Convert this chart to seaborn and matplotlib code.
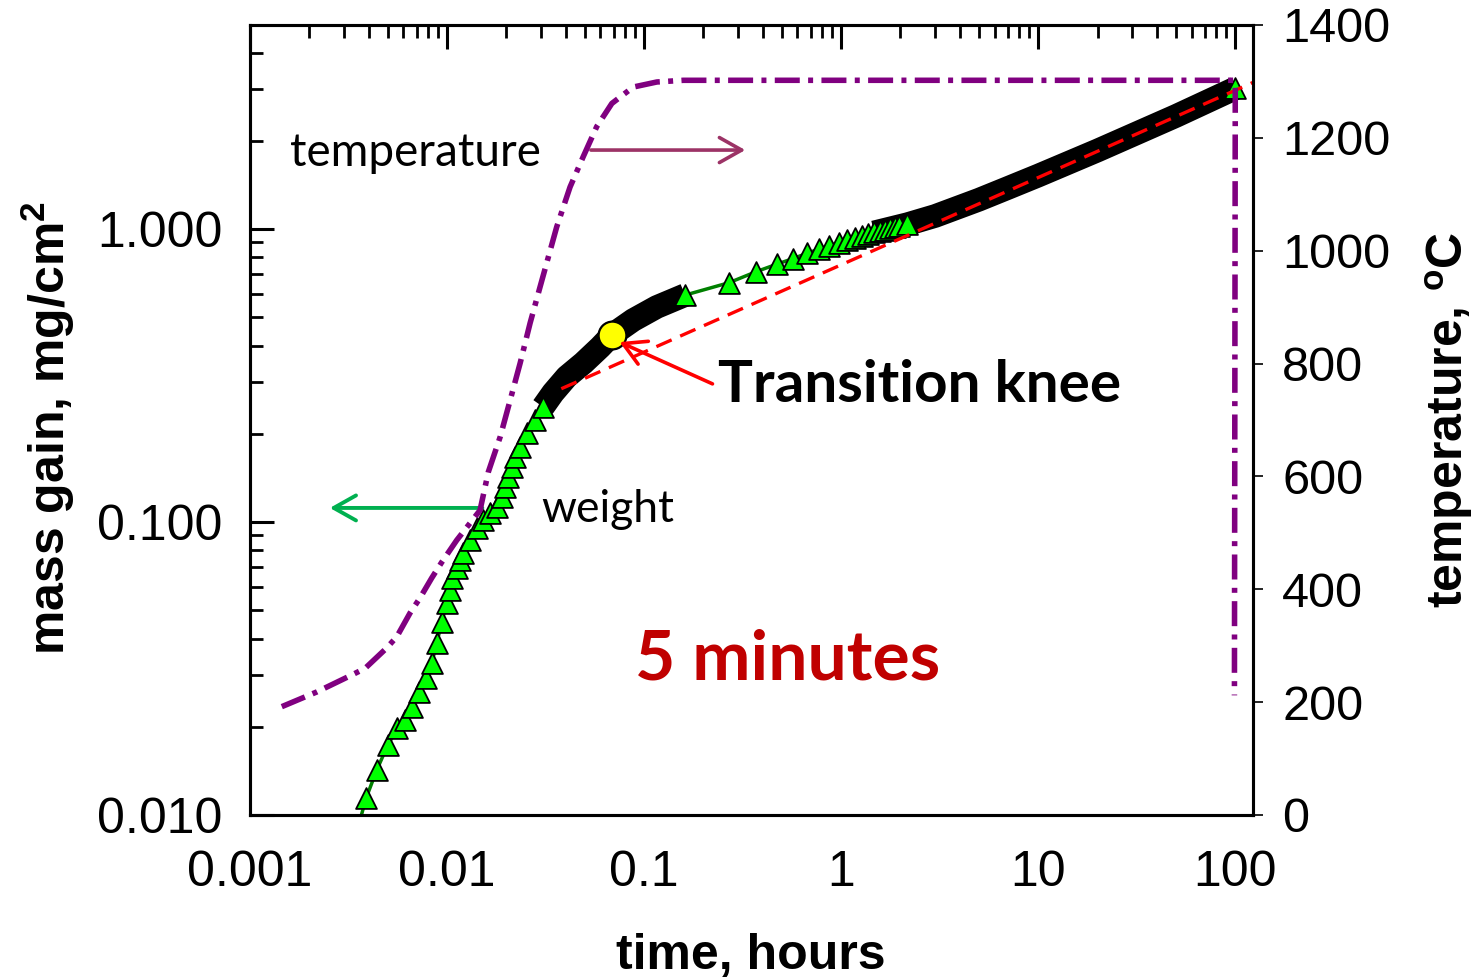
import matplotlib
matplotlib.use("Agg")
import matplotlib.pyplot as plt
import seaborn as sns

# weight gain data (hours, mg/cm2)
early_t = [0.0036, 0.00388, 0.0044, 0.0050, 0.0056, 0.00612, 0.00664, 0.0072, 0.0078,
           0.00836, 0.00887, 0.0094, 0.00996, 0.01035, 0.0106, 0.0112, 0.0117, 0.0121,
           0.0131, 0.01415, 0.0153, 0.01655, 0.0179, 0.0189, 0.0197, 0.0205, 0.0213,
           0.0221, 0.0235, 0.0254, 0.028, 0.0307]
early_m = [0.0095, 0.0114, 0.01425, 0.0173, 0.0198, 0.0211, 0.0234, 0.0263, 0.0294,
           0.033, 0.0386, 0.0456, 0.053, 0.0586, 0.0644, 0.0697, 0.0742, 0.0784,
           0.0868, 0.0955, 0.1016, 0.107, 0.1125, 0.1217, 0.1316, 0.1425, 0.154,
           0.1667, 0.180, 0.201, 0.223, 0.247]

knee_t = [0.0307, 0.0345, 0.0405, 0.0492, 0.0598, 0.0686, 0.088, 0.116, 0.1615]
knee_m = [0.247, 0.276, 0.313, 0.349, 0.395, 0.435, 0.489, 0.542, 0.595]

late_t = [0.1615, 0.27, 0.37, 0.47, 0.57, 0.67, 0.77, 0.87, 0.97, 1.07, 1.17, 1.27,
          1.37, 1.47, 1.57, 1.67, 1.77, 1.87, 1.97, 2.17]
late_m = [0.595, 0.656, 0.715, 0.758, 0.793, 0.826, 0.854, 0.878, 0.896, 0.916, 0.933,
          0.948, 0.962, 0.974, 0.986, 0.996, 1.006, 1.014, 1.022, 1.039]

tail_t = [1.47, 2.17, 3.0, 5.0, 7.0, 10.0, 20.0, 50.0, 100.0]
tail_m = [0.974, 1.039, 1.108, 1.259, 1.380, 1.522, 1.854, 2.432, 3.02]

# power law fit (red dashed)
fit_t = [0.038, 125.0]
fit_m = [0.285, 3.18]

# transition knee
knee_pt_t = [0.0686]
knee_pt_m = [0.435]

# furnace temperature (hours, C)
temp_t = [0.00145, 0.00218, 0.00328, 0.00384, 0.00494, 0.00556, 0.00649, 0.0073,
          0.00836, 0.0094, 0.0112, 0.0147, 0.0162, 0.0186, 0.0209, 0.0235, 0.0264,
          0.0296, 0.036, 0.0421, 0.049, 0.0575, 0.0686, 0.088, 0.116, 0.158, 1.0,
          98.0, 100.0, 99.0]
temp_T = [192, 218, 248, 260, 296, 316, 358, 385, 420, 448, 487, 540, 608, 670, 735,
          801, 872, 935, 1042, 1113, 1166, 1220, 1261, 1290, 1299, 1302, 1302,
          1302, 1295, 212]

x_ticks = [0.001, 0.01, 0.1, 1, 10, 100]
x_labels = ["0.001", "0.01", "0.1", "1", "10", "100"]
y_ticks = [0.01, 0.1, 1.0]
y_labels = ["0.010", "0.100", "1.000"]
t_ticks = [0, 200, 400, 600, 800, 1000, 1200, 1400]

sns.set_style("white")
plt.rcParams["font.family"] = ["Liberation Sans", "DejaVu Sans"]
plt.rcParams["mathtext.fontset"] = "custom"
plt.rcParams["mathtext.rm"] = "Liberation Sans"
plt.rcParams["mathtext.bf"] = "Liberation Sans:bold"
plt.rcParams["text.color"] = "black"
plt.rcParams["axes.labelcolor"] = "black"

fig = plt.figure(figsize=(14.75, 9.77), dpi=100)
ax = fig.add_axes([250 / 1475, 1 - 815 / 977, 1003 / 1475, 790 / 977])
ax2 = ax.twinx()

green = "#00ff00"
# connecting line
all_t = early_t + knee_t[1:] + late_t[1:] + tail_t[2:]
all_m = early_m + knee_m[1:] + late_m[1:] + tail_m[2:]
sns.lineplot(x=all_t, y=all_m, ax=ax, color="#008000", lw=2.5, sort=False,
             estimator=None, zorder=2)
# dense sections, markers overlap into a black band
for bt, bm in [(knee_t, knee_m), (tail_t, tail_m)]:
    sns.lineplot(x=bt, y=bm, ax=ax, color="black", lw=17, sort=False,
                 estimator=None, zorder=3, solid_capstyle="butt")
tri_t = early_t[1:] + late_t + [tail_t[-1]]
tri_m = early_m[1:] + late_m + [tail_m[-1]]
sns.scatterplot(x=tri_t, y=tri_m, ax=ax, marker="^", s=225, color=green,
                edgecolor="black", linewidth=1.3, zorder=4)
sns.lineplot(x=fit_t, y=fit_m, ax=ax, color="red", lw=2.4, zorder=5, estimator=None)
ax.lines[-1].set_dashes([5, 2.8])
sns.scatterplot(x=knee_pt_t, y=knee_pt_m, ax=ax, s=400, color="yellow",
                edgecolor="black", linewidth=1.6, zorder=6)

sns.lineplot(x=temp_t, y=temp_T, ax=ax2, color="#800080", lw=4, sort=False,
             estimator=None)
ax2.lines[-1].set_dashes([4.5, 1.5, 0.9, 1.5])

ax.set_xscale("log")
ax.set_yscale("log")
ax.set_xlim(0.001, 123)
ax.set_ylim(0.01, 4.97)
ax2.set_ylim(0, 1400)

ax.set_xticks(x_ticks)
ax.set_xticklabels(x_labels)
ax.set_yticks(y_ticks)
ax.set_yticklabels(y_labels)
ax2.set_yticks(t_ticks)
ax2.set_yticklabels([str(v) for v in t_ticks])

ax.tick_params(which="major", direction="in", length=17, width=2.2, top=True,
               right=False, labelsize=36, pad=25, colors="black")
ax.tick_params(axis="y", which="major", pad=20)
ax.tick_params(which="minor", direction="in", length=9.5, width=2, top=True,
               right=False, colors="black")
ax2.tick_params(which="major", direction="out", length=7, width=1.2, labelsize=35,
                pad=14, colors="black")
for a in (ax, ax2):
    for s in a.spines.values():
        s.set_linewidth(2.2)
        s.set_color("black")
ax.grid(False)
ax2.grid(False)

ax.set_xlabel("time, hours", fontsize=36, fontweight="bold")
ax.xaxis.set_label_coords(0.4995, -0.149)
ax.set_ylabel("mass gain, mg/cm$^{\\mathbf{2}}$", fontsize=36, fontweight="bold")
ax.yaxis.set_label_coords(-0.172, 0.49)
ax2.set_ylabel("temperature, $^{\\mathbf{o}}$C", fontsize=36, fontweight="bold")
ax2.yaxis.set_label_coords(1.169, 0.5)

# annotations
ax.text(0.00689, 1.816, "temperature", fontsize=33, family="Lato", ha="center",
        va="center", color="black")
ax.annotate("", xy=(0.337, 1.86), xytext=(0.052, 1.86),
            arrowprops=dict(arrowstyle="->, head_length=0.8, head_width=0.45",
                            color="#9c3366", lw=2.6, mutation_scale=20))
ax.text(0.0656, 0.11, "weight", fontsize=32, family="Lato", ha="center", va="center",
        color="black")
ax.annotate("", xy=(0.00246, 0.1117), xytext=(0.0156, 0.1117),
            arrowprops=dict(arrowstyle="->, head_length=0.8, head_width=0.45",
                            color="#00b050", lw=2.8, mutation_scale=20))
ax.annotate("", xy=(0.0729, 0.415), xytext=(0.229, 0.2935),
            arrowprops=dict(arrowstyle="->, head_length=0.8, head_width=0.45",
                            color="red", lw=2.6, mutation_scale=20), zorder=7)
ax.text(0.237, 0.2935, "Transition knee", fontsize=42, family="Lato",
        fontweight="bold", ha="left", va="center", color="black")
ax.text(0.538, 0.0338, "5 minutes", fontsize=50, family="Lato", fontweight="bold",
        color="#c00000", ha="center", va="center")

plt.savefig("out.png", dpi=100)
plt.close()
